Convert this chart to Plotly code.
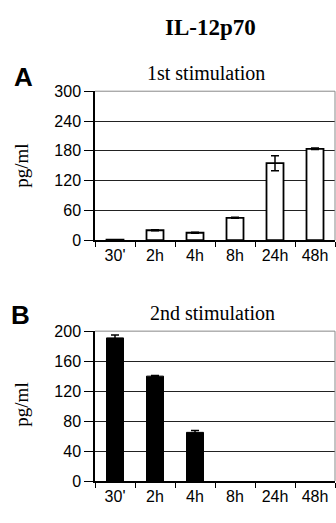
import plotly.graph_objects as go

categories = ["30'", "2h", "4h", "8h", "24h", "48h"]
first_vals = [1, 20, 15, 45, 155, 184]
first_err = [0, 1, 1, 1, 15, 1.5]
second_vals = [191, 140, 65, 0, 0, 0]
second_err = [4, 1, 2.5, 0, 0, 0]
y1_ticks = [0, 60, 120, 180, 240, 300]
y2_ticks = [0, 40, 80, 120, 160, 200]

W, H = 336, 523
def px_x(x): return x / W
def px_y(y): return (H - y) / H

def lw_of(vals, w):
    return [w if v > 0 else 0 for v in vals]

fig = go.Figure()
for vals, errs, fill, lw, xa, ya in [
    (first_vals, first_err, "white", 1.8, "x", "y"),
    (second_vals, second_err, "black", 1, "x2", "y2"),
]:
    fig.add_trace(go.Bar(x=categories, y=vals, xaxis=xa, yaxis=ya,
                         marker=dict(color=fill, line=dict(color="black", width=lw_of(vals, lw)))))
    keep = [i for i, e in enumerate(errs) if e > 0 and vals[i] > 0]
    fig.add_trace(go.Scatter(x=[categories[i] for i in keep], y=[vals[i] for i in keep],
                             xaxis=xa, yaxis=ya, mode="markers",
                             marker=dict(size=1, opacity=0), hoverinfo="skip",
                             error_y=dict(type="data", array=[errs[i] for i in keep],
                                          visible=True, color="black", thickness=1.5, width=4)))

tickfont = dict(family="Liberation Sans, Arial", size=16, color="black")
xcommon = dict(type="category", categoryorder="array", categoryarray=categories,
               tickson="boundaries", ticks="outside", ticklen=5,
               tickcolor="black", showline=True, linecolor="black", linewidth=1.5,
               showgrid=False, tickfont=tickfont, range=[-0.5, 5.5], fixedrange=True)
ycommon = dict(ticks="outside", ticklen=9, tickcolor="black", showline=True,
               linecolor="black", linewidth=1.5, showgrid=True, gridcolor="#222",
               gridwidth=1, tickfont=tickfont, zeroline=False)

fig.update_layout(
    width=W, height=H, margin=dict(l=0, r=0, t=0, b=0),
    paper_bgcolor="white", plot_bgcolor="white", showlegend=False,
    bargap=0.575,
    xaxis=dict(domain=[px_x(95), px_x(335)], anchor="y", **xcommon),
    yaxis=dict(domain=[px_y(240), px_y(86)], anchor="x", range=[0, 300],
               tickvals=y1_ticks, **ycommon),
    xaxis2=dict(domain=[px_x(95), px_x(335)], anchor="y2", **xcommon),
    yaxis2=dict(domain=[px_y(489), px_y(334)], anchor="x2", range=[0, 200],
                tickvals=y2_ticks, **ycommon),
)

# gray top/right frame
for xr, yr in [("x domain", "y domain"), ("x2 domain", "y2 domain")]:
    fig.add_shape(type="line", xref=xr, yref=yr, x0=0, x1=1, y0=1, y1=1,
                  line=dict(color="#888", width=1))
    fig.add_shape(type="line", xref=xr, yref=yr, x0=1, x1=1, y0=0, y1=1,
                  line=dict(color="#888", width=1))

serif = "Liberation Serif, Times New Roman"
sans = "Liberation Sans, Arial"
annots = [
    dict(text="<b>IL-12p70</b>", x=px_x(210), y=px_y(20), font=dict(family=serif, size=23)),
    dict(text="<b>A</b>", x=px_x(23), y=px_y(71), font=dict(family=sans, size=26)),
    dict(text="1st stimulation", x=px_x(206), y=px_y(67), font=dict(family=serif, size=20)),
    dict(text="pg/ml", x=px_x(22), y=px_y(163), textangle=-90, font=dict(family=serif, size=19)),
    dict(text="<b>B</b>", x=px_x(20), y=px_y(317), font=dict(family=sans, size=26)),
    dict(text="2nd stimulation", x=px_x(212), y=px_y(315), font=dict(family=serif, size=20)),
    dict(text="pg/ml", x=px_x(22), y=px_y(410), textangle=-90, font=dict(family=serif, size=19)),
]
for a in annots:
    a["font"]["color"] = "black"
    fig.add_annotation(xref="paper", yref="paper", showarrow=False,
                       xanchor="center", yanchor="middle", **a)

fig.write_html("out.html")
